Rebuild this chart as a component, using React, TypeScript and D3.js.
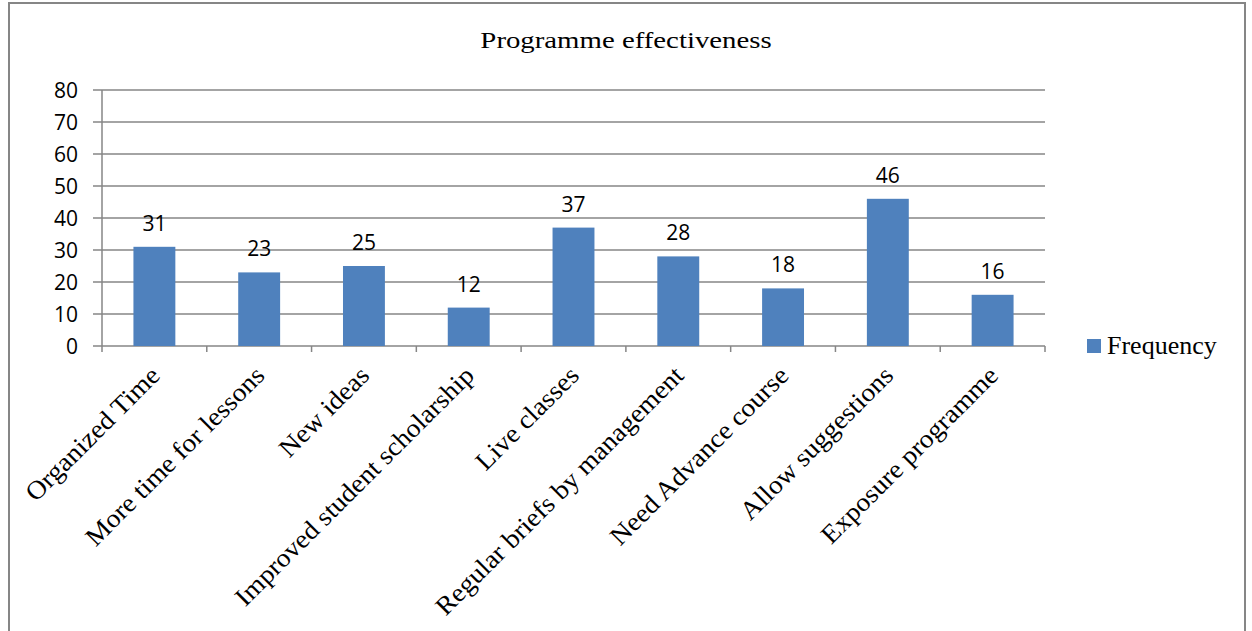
import React from "react";
import * as d3 from "d3";

const categories = [
  "Organized Time",
  "More time for lessons",
  "New ideas",
  "Improved student scholarship",
  "Live classes",
  "Regular briefs by management",
  "Need Advance course",
  "Allow suggestions",
  "Exposure programme",
];
const frequency = [31, 23, 25, 12, 37, 28, 18, 46, 16];
const yTicks = [0, 10, 20, 30, 40, 50, 60, 70, 80];
const seriesName = "Frequency";
const title = "Programme effectiveness";

export default function App() {
  const W = 1252, H = 631;
  const left = 102, right = 1045, top = 90, bottom = 346;
  const x = d3.scaleBand<string>().domain(categories).range([left, right]).paddingInner(0.6).paddingOuter(0.3);
  const xb = d3.scaleBand<string>().domain(categories).range([left, right]);
  const y = d3.scaleLinear().domain([0, 80]).range([bottom, top]);
  const grey = "#868686";
  const blue = "#4F81BD";
  const sans = "'Open Sans', 'Liberation Sans', sans-serif";
  const serif = "'Liberation Serif', 'Times New Roman', serif";
  return (
    <svg width={W} height={H} style={{ position: "absolute", left: 0, top: 0 }}>
      <rect x={0} y={0} width={W} height={H} fill="#fff" />
      <rect x={9} y={3} width={1236} height={660} fill="none" stroke={grey} strokeWidth={2} />
      <text transform={`translate(626,48) scale(1.2,1)`} textAnchor="middle" fontFamily={serif} fontSize={24} fill="#000">{title}</text>
      {yTicks.map((t) => (
        <g key={t}>
          <line x1={93} x2={right} y1={y(t)} y2={y(t)} stroke={grey} strokeWidth={1.5} />
          <text x={78} y={y(t) + 7.5} textAnchor="end" fontFamily={sans} fontSize={21} fill="#000">{t}</text>
        </g>
      ))}
      <line x1={left} x2={left} y1={top} y2={bottom + 6} stroke={grey} strokeWidth={1.5} />
      {categories.map((c, i) => (
        <line key={"t" + i} x1={(xb(c) as number) + xb.bandwidth()} x2={(xb(c) as number) + xb.bandwidth()} y1={bottom} y2={bottom + 6} stroke={grey} strokeWidth={1.5} />
      ))}
      {categories.map((c, i) => (
        <g key={c}>
          <rect x={x(c)} y={y(frequency[i])} width={x.bandwidth()} height={bottom - y(frequency[i])} fill={blue} />
          <text x={(x(c) as number) + x.bandwidth() / 2} y={y(frequency[i]) - 16} textAnchor="middle" fontFamily={sans} fontSize={21} fill="#000">{frequency[i]}</text>
          <text
            transform={`translate(${(xb(c) as number) + xb.bandwidth() / 2 + 7},${bottom + 31}) rotate(-45) scale(1.06,1)`}
            textAnchor="end"
            fontFamily={serif}
            fontSize={26}
            fill="#000"
          >{c}</text>
        </g>
      ))}
      <rect x={1087} y={339} width={14} height={14} fill={blue} />
      <text x={1107} y={354} fontFamily={serif} fontSize={26} fill="#000">{seriesName}</text>
    </svg>
  );
}
